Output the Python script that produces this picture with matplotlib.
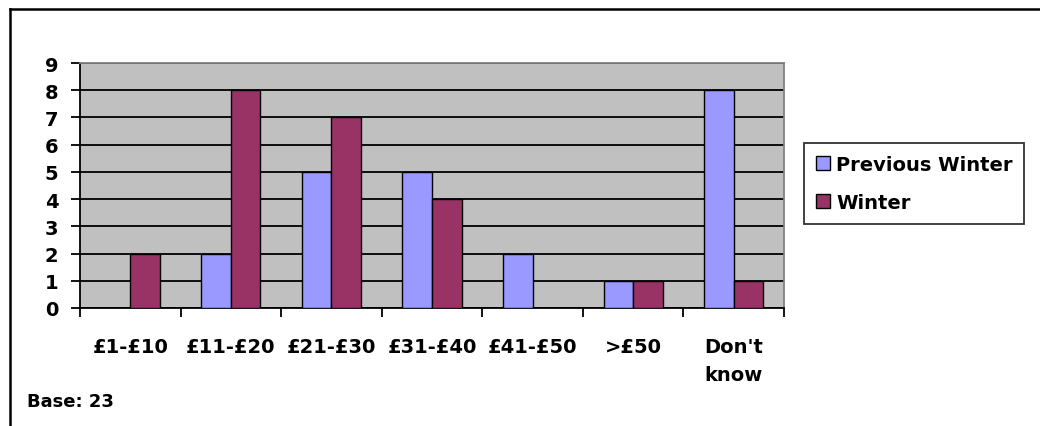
import numpy as np
import matplotlib.pyplot as plt
import matplotlib.transforms as mtransforms
from matplotlib.lines import Line2D
from matplotlib.patches import Patch

# spend bands and answers for the two winters
bands = ['£1-£10', '£11-£20', '£21-£30', '£31-£40', '£41-£50', '>£50', "Don't\nknow"]
previous_winter = [0, 2, 5, 5, 2, 1, 8]
winter = [2, 8, 7, 4, 0, 1, 1]
base_n = 23

W, H = 1040, 427
plt.rcParams['font.family'] = ['DejaVu Sans']
plt.rcParams['font.weight'] = 'bold'

fig = plt.figure(figsize=(W / 100, H / 100), dpi=100)
ax = fig.add_axes([80 / W, (H - 309) / H, (784 - 80) / W, (309 - 64) / H])
ax.set_facecolor('#C0C0C0')

x = np.arange(len(bands))
bw = 0.294
ax.bar(x - bw / 2, previous_winter, bw, color='#9999FF', edgecolor='black', linewidth=1, zorder=3)
ax.bar(x + bw / 2, winter, bw, color='#993366', edgecolor='black', linewidth=1, zorder=3)

ax.set_xlim(-0.5, len(bands) - 0.5)
ax.set_ylim(0, 9)
ax.set_yticks(range(10))
ax.yaxis.grid(True, color='black', linewidth=1.3)
ax.set_axisbelow(True)

# category ticks sit between the groups, labels in the middle
ax.set_xticks(np.arange(len(bands) + 1) - 0.5)
ax.set_xticklabels([])
ax.tick_params(axis='x', direction='out', length=6.5, width=1.3)
ax.tick_params(axis='y', direction='out', length=6.5, width=1.3, labelsize=14, pad=9)
for lab in ax.get_yticklabels():
    lab.set_fontweight('bold')

trans = mtransforms.blended_transform_factory(ax.transData, ax.transAxes)
for xi, name in zip(x, bands):
    ax.text(xi, -0.118, name, transform=trans, ha='center', va='top',
            multialignment='center', linespacing=1.6, fontsize=14, fontweight='bold')

for s in ['left', 'bottom']:
    ax.spines[s].set_color('black')
    ax.spines[s].set_linewidth(1.3)
for s in ['top', 'right']:
    ax.spines[s].set_color('#808080')
    ax.spines[s].set_linewidth(1.3)

handles = [Patch(facecolor='#9999FF', edgecolor='black', linewidth=1),
           Patch(facecolor='#993366', edgecolor='black', linewidth=1)]
leg = fig.legend(handles, ['Previous Winter', 'Winter'],
                 loc='upper left', bbox_to_anchor=(804 / W, (H - 144) / H),
                 prop={'size': 14, 'weight': 'bold'}, fancybox=False,
                 handlelength=0.75, handleheight=0.75, handletextpad=0.3,
                 labelspacing=1.0, borderpad=0.6, borderaxespad=0)
leg.get_frame().set_edgecolor('black')
leg.get_frame().set_linewidth(1.3)

fig.text(27 / W, (H - 402) / H, f'Base: {base_n}', fontsize=13, fontweight='bold', va='center')

# chart border (top and left edges show)
fig.add_artist(Line2D([10 / W, 10 / W], [0, (H - 10) / H], color='black', linewidth=1.8,
                      transform=fig.transFigure))
fig.add_artist(Line2D([10 / W, 1], [(H - 10) / H, (H - 10) / H], color='black', linewidth=1.8,
                      transform=fig.transFigure))

fig.savefig('out.png', dpi=100)
